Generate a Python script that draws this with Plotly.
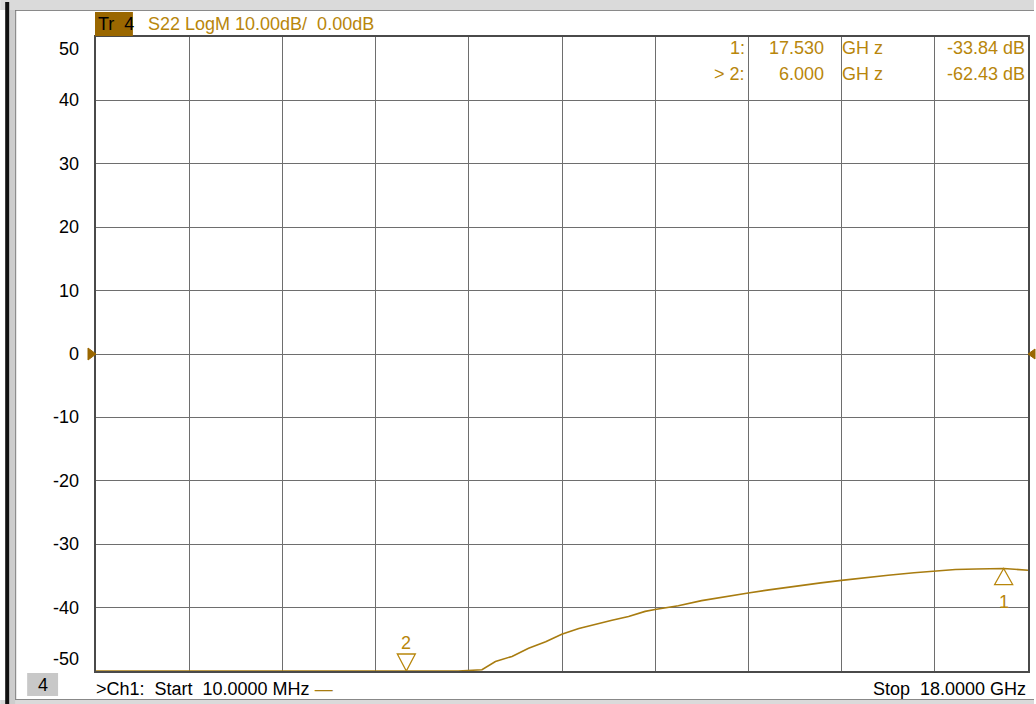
import numpy as np
import plotly.graph_objects as go

# ---------------- data ----------------
freq_ghz = [0.01, 1.0, 2.0, 3.0, 4.0, 5.0, 6.0, 7.0, 7.46, 7.72, 8.04, 8.36, 8.69, 9.0,
            9.33, 9.65, 9.97, 10.29, 10.61, 10.8, 11.25, 11.7, 12.2, 12.6, 13.0, 13.5,
            14.0, 14.4, 14.9, 15.3, 15.8, 16.2, 16.6, 17.0, 17.53, 18.0]
s22_db = [-72.0, -70.5, -69.0, -67.5, -66.0, -64.2, -62.43, -55.0, -49.8, -48.5, -47.7, -46.4,
          -45.4, -44.2, -43.3, -42.6, -42.0, -41.4, -40.6, -40.3, -39.7, -38.9, -38.2, -37.7,
          -37.2, -36.6, -36.1, -35.7, -35.2, -34.9, -34.5, -34.2, -34.0, -33.9, -33.84, -34.1]

marker_names = ["1", "2"]
marker_freq = [17.53, 6.0]
marker_db = [-33.84, -62.43]
marker_freq_text = ["17.530", "6.000"]
marker_db_text = ["-33.84 dB", "-62.43 dB"]
marker_row_labels = ["1:", "> 2:"]

y_ticks = [50, 40, 30, 20, 10, 0, -10, -20, -30, -40, -50]
x_start, x_stop = 0.01, 18.0
y_min, y_max = -50, 50

TRACE = "#a87c10"
GOLD = "#b8860b"
FONT = "Liberation Sans, Arial, sans-serif"

# plot-area geometry (pixels)
L, R, T, B = 96, 1030, 37, 671
W, H = R - L, B - T


def px(x):
    return (x - L) / W


def py(y):
    return (B - y) / H


disp_db = np.clip(np.array(s22_db), y_min, y_max)

fig = go.Figure()
fig.add_trace(go.Scatter(x=freq_ghz, y=disp_db, mode="lines",
                         line=dict(color=TRACE, width=1.6), cliponaxis=False,
                         hoverinfo="skip"))

span = x_stop - x_start
fig.update_xaxes(range=[x_start, x_stop], tick0=x_start, dtick=span / 10,
                 showgrid=True, gridcolor="#6e6e6e", gridwidth=1,
                 showticklabels=False, ticks="", zeroline=False,
                 showline=True, linecolor="#4a4a4a", linewidth=1.5, mirror=True)
fig.update_yaxes(range=[y_min, y_max], tick0=0, dtick=10,
                 showgrid=True, gridcolor="#6e6e6e", gridwidth=1,
                 showticklabels=False, ticks="", zeroline=False,
                 showline=True, linecolor="#4a4a4a", linewidth=1.5, mirror=True)

shapes = []
annots = []

# ---- outer window frame ----
shapes += [
    dict(type="rect", xref="paper", yref="paper", x0=px(0), x1=px(1036), y0=py(0), y1=py(10),
         fillcolor="#dadada", line=dict(width=0), layer="below"),
    dict(type="rect", xref="paper", yref="paper", x0=px(0), x1=px(1036), y0=py(700), y1=py(704),
         fillcolor="#dadada", line=dict(width=0), layer="below"),
    dict(type="rect", xref="paper", yref="paper", x0=px(9), x1=px(15), y0=py(10), y1=py(704),
         fillcolor="#cdcdcd", line=dict(width=0), layer="below"),
    dict(type="rect", xref="paper", yref="paper", x0=px(5), x1=px(9), y0=py(2), y1=py(704),
         fillcolor="#111111", line=dict(width=0), layer="below"),
    dict(type="line", xref="paper", yref="paper", x0=px(15), x1=px(1036), y0=py(10.5), y1=py(10.5),
         line=dict(color="#8a8a8a", width=1)),
    dict(type="line", xref="paper", yref="paper", x0=px(15.5), x1=px(15.5), y0=py(10), y1=py(700),
         line=dict(color="#777777", width=1)),
    dict(type="line", xref="paper", yref="paper", x0=px(15), x1=px(1036), y0=py(699.5), y1=py(699.5),
         line=dict(color="#888888", width=1)),
]

# ---- header ----
shapes.append(dict(type="rect", xref="paper", yref="paper", x0=px(95), x1=px(133),
                   y0=py(36), y1=py(12), fillcolor="#9a6700", line=dict(width=0)))
annots.append(dict(xref="paper", yref="paper", x=px(96), y=py(24.5), xanchor="left",
                   yanchor="middle", text="Tr\u00a0 4", showarrow=False,
                   font=dict(family=FONT, size=18, color="#000000")))
annots.append(dict(xref="paper", yref="paper", x=px(146), y=py(24.5), xanchor="left",
                   yanchor="middle", text="S22 LogM 10.00dB/\u00a0 0.00dB", showarrow=False,
                   font=dict(family=FONT, size=18, color=GOLD)))

# ---- y tick labels ----
for v in y_ticks:
    shift = -12 if v == y_max else (12 if v == y_min else 0)
    annots.append(dict(xref="paper", yref="y", x=px(81), y=v, yshift=shift,
                       xanchor="right", yanchor="middle", text=str(v), showarrow=False,
                       font=dict(family=FONT, size=18, color="#000000")))

# ---- reference level triangles ----
shapes.append(dict(type="path", xref="paper", yref="y", xsizemode="pixel", ysizemode="pixel",
                   xanchor=0, yanchor=0, path="M-8,6 L0,0 L-8,-6 Z",
                   fillcolor="#9a6700", line=dict(color="#9a6700", width=1)))
shapes.append(dict(type="path", xref="paper", yref="y", xsizemode="pixel", ysizemode="pixel",
                   xanchor=1, yanchor=0, path="M7,5 L0,0 L7,-5 Z",
                   fillcolor="#9a6700", line=dict(color="#9a6700", width=1)))

# ---- marker table ----
rows_y = [48, 74]
for i in range(2):
    f = dict(family=FONT, size=18, color=GOLD)
    annots.append(dict(xref="paper", yref="paper", x=px(748), y=py(rows_y[i]), xanchor="right",
                       yanchor="middle", text=marker_row_labels[i], showarrow=False, font=f))
    annots.append(dict(xref="paper", yref="paper", x=px(828), y=py(rows_y[i]), xanchor="right",
                       yanchor="middle", text=marker_freq_text[i], showarrow=False, font=f))
    annots.append(dict(xref="paper", yref="paper", x=px(842), y=py(rows_y[i]), xanchor="left",
                       yanchor="middle", text="GH z", showarrow=False, font=f))
    annots.append(dict(xref="paper", yref="paper", x=px(1029), y=py(rows_y[i]), xanchor="right",
                       yanchor="middle", text=marker_db_text[i], showarrow=False, font=f))

# ---- marker symbols on trace ----
for name, fx, db in zip(marker_names, marker_freq, marker_db):
    yd = float(np.clip(db, y_min, y_max))
    if db < y_min:
        path = "M0,0 L-9,17 L9,17 Z"   # downward pointing, above trace
        tshift = 28
    else:
        path = "M0,0 L-9,-16 L9,-16 Z"  # upward pointing, below trace
        tshift = -33
    shapes.append(dict(type="path", xref="x", yref="y", xsizemode="pixel", ysizemode="pixel",
                       xanchor=fx, yanchor=yd, path=path,
                       line=dict(color=GOLD, width=1.3), fillcolor="rgba(0,0,0,0)"))
    annots.append(dict(xref="x", yref="y", x=fx, y=yd, yshift=tshift, xanchor="center",
                       yanchor="middle", text=name, showarrow=False,
                       font=dict(family=FONT, size=18, color=GOLD)))

# ---- footer ----
shapes.append(dict(type="rect", xref="paper", yref="paper", x0=px(27), x1=px(58),
                   y0=py(696), y1=py(673), fillcolor="#c8c8c8", line=dict(width=0)))
annots.append(dict(xref="paper", yref="paper", x=px(42.5), y=py(685), xanchor="center",
                   yanchor="middle", text="4", showarrow=False,
                   font=dict(family=FONT, size=18, color="#000000")))
annots.append(dict(xref="paper", yref="paper", x=px(94), y=py(689), xanchor="left",
                   yanchor="middle",
                   text=f">Ch1:\u00a0 Start\u00a0 10.0000 MHz <span style='color:{TRACE}'>\u2014</span>",
                   showarrow=False, font=dict(family=FONT, size=18, color="#000000")))
annots.append(dict(xref="paper", yref="paper", x=px(1030), y=py(689), xanchor="right",
                   yanchor="middle", text="Stop\u00a0 18.0000 GHz", showarrow=False,
                   font=dict(family=FONT, size=18, color="#000000")))

fig.update_layout(width=1036, height=704, margin=dict(l=L, r=1036 - R, t=T, b=704 - B),
                  paper_bgcolor="#ffffff", plot_bgcolor="#ffffff", showlegend=False,
                  shapes=shapes, annotations=annots, hovermode=False)

fig.write_html("out.html", config={"displayModeBar": False},
               post_script="document.body.style.margin='0px';document.body.style.overflow='hidden';")
